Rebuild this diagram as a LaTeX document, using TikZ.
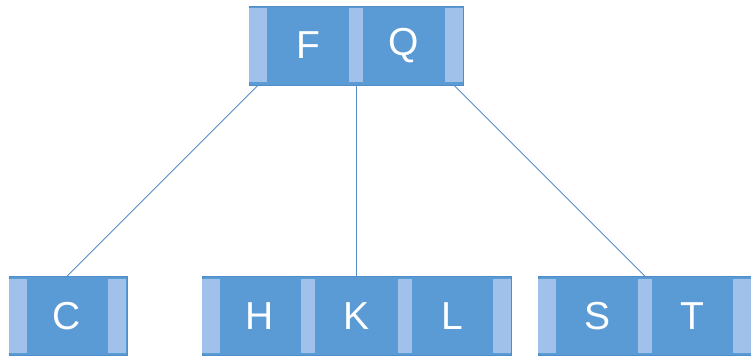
\documentclass[tikz,border=0pt]{standalone}
\usepackage{fontspec}
\setmainfont{Liberation Sans}
\definecolor{nodeblue}{RGB}{91,155,213}
\definecolor{nodeedge}{RGB}{80,140,200}
\definecolor{ptrblue}{RGB}{160,194,234}
\definecolor{linkblue}{RGB}{90,140,198}
\begin{document}
\begin{tikzpicture}[x=1pt,y=-1pt,
  bnode/.style={draw=nodeedge, fill=nodeblue, line width=0.6pt, inner sep=0pt, minimum height=79pt},
  keycell/.style={inner sep=0pt, minimum width=81pt, minimum height=79pt, text=white, font=\fontsize{39}{39}\selectfont},
  ptr/.style={fill=ptrblue, inner sep=0pt, minimum width=18pt, minimum height=74pt},
  midptr/.style={ptr, minimum width=14pt},
  link/.style={draw=linkblue, line width=0.8pt}]
\useasboundingbox (0,0) rectangle (751,358);
% root
\node[bnode, minimum width=214pt] (top) at (356,45.5) {};
\node[ptr] (t0) at (258,45.5) {};
\node[midptr] (t1) at (356,45.5) {};
\node[ptr] (t2) at (454,45.5) {};
\node[keycell] (F) at (308,45.5) {F};
\node[keycell] (Q) at (403.5,45.5) {Q};
% C
\node[bnode, minimum width=118pt] (cbox) at (68,316) {};
\node[ptr] (c0) at (18,316) {};
\node[ptr] (c1) at (117,316) {};
\node[keycell] (C) at (67,316) {C};
% H K L
\node[bnode, minimum width=309pt] (hbox) at (356.5,316) {};
\node[ptr] (h0) at (211,316) {};
\node[midptr] (h1) at (307.5,316) {};
\node[midptr] (h2) at (404.5,316) {};
\node[ptr] (h3) at (502,316) {};
\node[keycell] (H) at (260,316) {H};
\node[keycell] (K) at (356,316) {K};
\node[keycell] (L) at (452.5,316) {L};
% S T
\node[bnode, minimum width=213pt] (sbox) at (644.5,316) {};
\node[ptr] (s0) at (547,316) {};
\node[midptr] (s1) at (645,316) {};
\node[ptr] (s2) at (742,316) {};
\node[keycell] (S) at (597,316) {S};
\node[keycell] (T) at (692.5,316) {T};
% links
\draw[link] (t0 |- top.south) -- (C.north);
\draw[link] (t1 |- top.south) -- (K.north);
\draw[link] (t2 |- top.south) -- (s1 |- sbox.north);
\end{tikzpicture}
\end{document}
